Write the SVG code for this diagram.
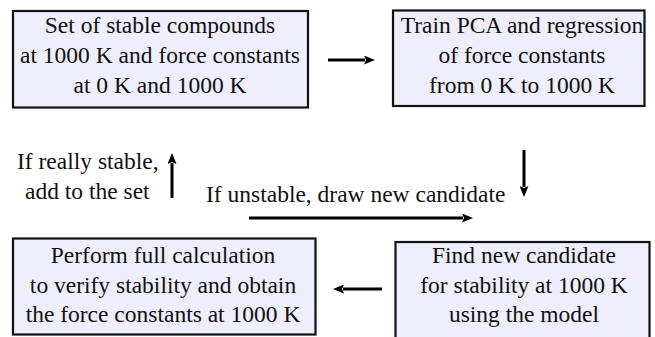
<svg xmlns="http://www.w3.org/2000/svg" width="655" height="337" viewBox="0 0 655 337">
<style>
.box{fill:#eeeefc;stroke:#111;stroke-width:2.2}
.boxtext{font-family:'Liberation Serif',serif;font-size:23.5px;fill:#111;text-anchor:middle}
.lbl{font-family:'Liberation Serif',serif;font-size:23.5px;fill:#111}
.c{fill:none;stroke:#000;stroke-width:3;marker-end:url(#ah)}
</style>
<defs>
<marker id="ah" markerUnits="userSpaceOnUse" markerWidth="11" markerHeight="9" refX="1" refY="4.5" orient="auto">
<path d="M0,0 L11,4.5 L0,9 L2,4.5 Z" fill="#000"/>
</marker>
</defs>
<g id="n1">
<rect class="box" x="13" y="11" width="295" height="96.5"/>
<text class="boxtext" x="160" y="33">Set of stable compounds</text>
<text class="boxtext" x="160" y="63">at 1000 K and force constants</text>
<text class="boxtext" x="160" y="93">at 0 K and 1000 K</text>
</g>
<g id="n2">
<rect class="box" x="393" y="10.5" width="251.5" height="95.5"/>
<text class="boxtext" x="522" y="33">Train PCA and regression</text>
<text class="boxtext" x="522" y="63">of force constants</text>
<text class="boxtext" x="522" y="93">from 0 K to 1000 K</text>
</g>
<g id="n3">
<rect class="box" x="13" y="238.5" width="302.5" height="96"/>
<text class="boxtext" x="163" y="263">Perform full calculation</text>
<text class="boxtext" x="163" y="293">to verify stability and obtain</text>
<text class="boxtext" x="163" y="322">the force constants at 1000 K</text>
</g>
<g id="n4">
<rect class="box" x="395.5" y="242" width="254" height="110"/>
<text class="boxtext" x="524" y="263">Find new candidate</text>
<text class="boxtext" x="524" y="293">for stability at 1000 K</text>
<text class="boxtext" x="524" y="322">using the model</text>
</g>
<g id="labels">
<text class="lbl" x="17" y="169">If really stable,</text>
<text class="lbl" x="25" y="199">add to the set</text>
<text class="lbl" x="206" y="202">If unstable, draw new candidate</text>
</g>
<g id="connectors">
<line class="c" x1="328" y1="60" x2="365" y2="60"/>
<line class="c" x1="524" y1="150" x2="524" y2="187"/>
<line class="c" x1="249" y1="218" x2="463" y2="218"/>
<line class="c" x1="382" y1="289" x2="343" y2="289"/>
<line class="c" x1="172" y1="198" x2="172" y2="163"/>
</g>
</svg>
